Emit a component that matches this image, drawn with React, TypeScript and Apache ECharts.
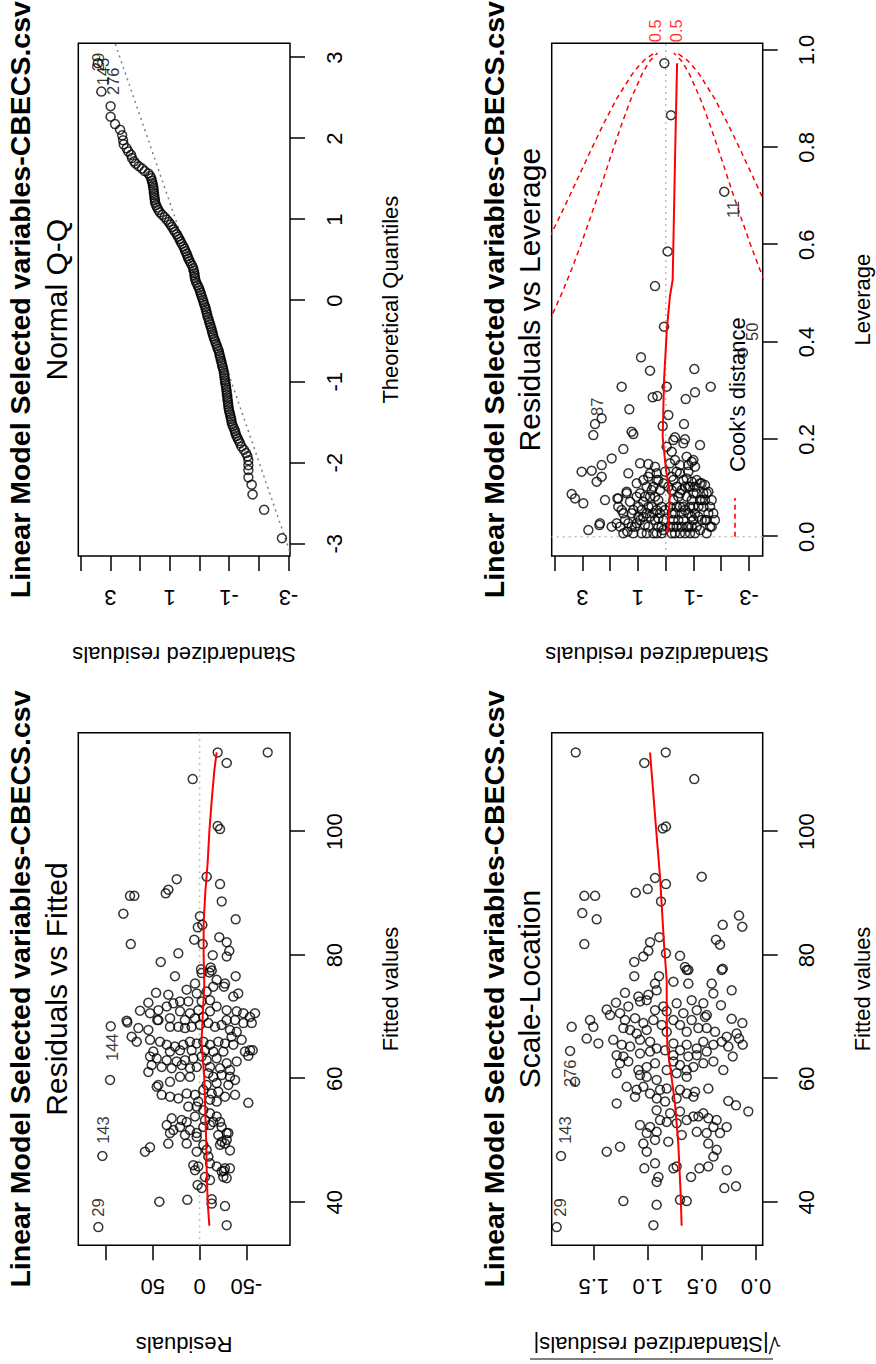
import React, { useEffect, useRef } from "react";
import * as echarts from "echarts";

const FONT = '"Liberation Sans", Arial, Helvetica, sans-serif';
const MAIN_TITLE = "Linear Model Selected variables-CBECS.csv";
const CAPTIONS = ["Residuals vs Fitted", "Normal Q-Q", "Scale-Location", "Residuals vs Leverage"];
const X_NAMES = ["Fitted values", "Theoretical Quantiles", "Fitted values", "Leverage"];
const Y_NAMES = ["Residuals", "Standardized residuals", "\u221A|Standardized residuals|", "Standardized residuals"];

// ---- axis ticks / labels ----
const FIT_TICKS = [40, 60, 80, 100];
const RES_TICKS = [-50, 0, 50, 100];
const RES_LABELS = [-50, 0, 50];
const Q_TICKS = [-3, -2, -1, 0, 1, 2, 3];
const STD_TICKS = [-3, -2, -1, 0, 1, 2, 3, 4];
const STD_LABELS = [-3, -1, 1, 3];
const SQRT_TICKS = [0, 0.5, 1.0, 1.5];
const LEV_TICKS = [0, 0.2, 0.4, 0.6, 0.8, 1.0];

// ---- Residuals vs Fitted: [fitted, residual] ----
const RVF_POINTS = [
  [112.8, -19.3], [112.8, -72.7], [111.1, -28.9], [108.5, 7.4], [100.9, -19.3], [100.4, -21.8], [92.7, -7.6], [92.3, 24.4],
  [90.6, 33.4], [90.0, 36.2], [89.6, 74.3], [89.6, 69.7], [91.5, -21.8], [88.7, -23.6], [86.7, 81.4], [85.8, -38.5],
  [86.3, -0.4], [84.9, -2.9], [84.5, 2.0], [82.5, 5.7], [81.8, -3.3], [82.9, -21.0], [82.1, -28.9], [80.7, -31.7],
  [79.8, -28.9], [81.8, 73.5], [80.3, 22.7], [78.9, 41.5], [80.0, -14.0], [77.7, -1.5], [78.0, -11.8], [77.5, -12.9],
  [76.6, 26.3], [76.6, -38.5], [77.1, -2.2], [77.2, -10.4], [76.0, -18.2], [75.4, -27.1], [75.4, 4.9], [74.4, 13.8],
  [73.9, 46.5], [73.6, 33.4], [72.5, 20.9], [72.5, 12.0], [73.8, 3.1], [74.1, -7.5], [74.9, -14.6], [74.9, -26.0],
  [73.3, -36.0], [73.8, -41.3], [72.7, -11.1], [72.5, -2.2], [72.2, 28.0], [72.3, 54.7], [71.0, 63.6], [70.6, 52.9],
  [71.1, 44.0], [71.7, 35.1], [70.9, 20.9], [70.6, 10.3], [71.1, 1.4], [70.9, -11.1], [71.7, -18.2], [71.1, -28.9],
  [70.9, -39.6], [70.6, -46.7], [70.6, -59.1], [70.0, -53.8], [69.5, 44.0], [69.8, 31.6], [69.5, 15.6], [69.8, 4.9],
  [70.0, -4.0], [69.5, -28.9], [69.5, -37.8], [69.4, 77.8], [69.1, 77.1], [68.2, 65.4], [69.5, 45.1], [67.9, 54.7],
  [68.4, 31.6], [68.4, 22.7], [68.2, 15.6], [68.4, 8.5], [68.7, -0.4], [69.0, -9.3], [68.4, -16.4], [68.7, -23.5],
  [67.9, -32.4], [67.6, -39.6], [69.0, -46.7], [69.0, -55.6], [66.8, -34.2], [68.5, 94.9], [66.8, 72.5], [66.0, 67.2],
  [66.3, 52.9], [66.0, 42.3], [65.5, 35.1], [65.2, 26.3], [65.5, 17.4], [66.0, 10.3], [65.7, 3.1], [66.0, -4.0],
  [65.5, -11.1], [66.0, -20.0], [65.7, -27.1], [65.5, -36.0], [66.3, -44.9], [64.6, -53.8], [64.6, -56.6], [64.4, -48.4],
  [64.4, 49.4], [64.4, 31.6], [64.6, 20.9], [64.6, 8.5], [64.6, -5.8], [64.4, -14.6], [64.4, -25.3], [63.6, 52.9],
  [63.3, 45.8], [63.0, 35.1], [62.8, 24.5], [63.0, 15.6], [63.3, 6.7], [63.6, -2.2], [63.0, -7.5], [63.3, -18.2],
  [62.5, -28.9], [62.8, -39.6], [63.7, -52.0], [62.2, 51.2], [61.9, 40.5], [61.7, 29.8], [62.2, 19.1], [61.7, 10.3],
  [61.9, 3.1], [61.9, -11.1], [61.7, -21.8], [61.4, -32.4], [61.1, 54.7], [59.8, 95.6], [59.0, 44.0], [59.5, 31.6],
  [60.3, 20.9], [60.3, 10.3], [60.9, -9.3], [60.3, -14.6], [60.6, -23.5], [60.3, -32.4], [59.8, -37.8], [59.0, -7.5],
  [59.3, -18.2], [59.0, -30.7], [58.7, 45.8], [57.4, 40.5], [57.1, 31.6], [56.8, 22.7], [57.6, 13.8], [57.4, 4.9],
  [58.2, -4.0], [57.6, -12.9], [57.9, -20.0], [57.1, -27.1], [57.4, -37.8], [56.1, -52.0], [56.3, 1.4], [56.6, -11.1],
  [56.3, -18.2], [55.5, 12.0], [55.5, 3.1], [54.9, -4.0], [54.4, -11.1], [53.9, -18.2], [53.3, -5.8], [53.0, -21.8],
  [53.0, -14.6], [53.9, 4.9], [53.3, 19.1], [53.6, 29.8], [52.5, 35.1], [51.7, 28.0], [53.0, 13.8], [52.2, 20.9],
  [51.7, 10.3], [51.2, 3.1], [52.2, -4.0], [52.5, -11.1], [52.2, -23.5], [51.2, -28.9], [50.9, -20.0], [51.2, 31.6],
  [50.9, 15.6], [49.5, -27.1], [49.8, -23.5], [48.4, -32.4], [51.2, -30.7], [49.5, 33.4], [48.9, 52.9], [48.2, 58.3],
  [49.5, 13.8], [50.6, 3.1], [49.3, -4.0], [48.5, -7.5], [48.2, 3.1], [49.3, -21.8], [50.1, -28.9], [46.0, 6.7],
  [45.2, 4.9], [45.8, 1.4], [46.3, -11.1], [45.8, -18.2], [45.5, -27.1], [45.5, -32.4], [45.0, -23.5], [47.4, -9.3],
  [44.1, -25.3], [45.1, -26.0], [44.1, -5.8], [42.8, 2.1], [42.3, -2.2], [43.6, -11.1], [43.9, -28.9], [40.1, 43.0],
  [40.4, 13.1], [40.5, -12.9], [39.8, -12.9], [39.4, -27.1], [36.3, -28.9], [36.0, 108.1], [47.5, 103.8],
];
const RVF_LOWESS = [
  [36.2, -10.4], [40, -8.6], [45, -7.6], [50, -7.0], [55, -6.0], [60, -5.0], [63, -3.6], [66, -2.0], [70, -3.3],
  [75, -5.0], [80, -4.3], [85, -4.3], [90, -6.0], [95, -8.6], [100, -10.4], [105, -12.9], [110, -15.8], [112.8, -18.2],
];
const RVF_LABELS = [[37.5, 108.5, "29", "right"], [49.3, 103.1, "143", "right"], [62.7, 93.8, "144", "right"]];

// ---- Normal Q-Q: [theoretical quantile, standardized residual] ----
const QQ_POINTS = [
  [2.93, 3.42], [2.58, 3.30], [2.40, 2.99], [2.27, 2.99], [2.18, 2.84], [2.11, 2.67], [2.04, 2.60], [1.98, 2.57],
  [1.93, 2.55], [1.88, 2.45], [1.84, 2.39], [1.80, 2.30], [1.76, 2.27], [1.72, 2.20], [1.69, 2.14], [1.66, 2.04],
  [1.63, 1.93], [1.60, 1.84], [1.57, 1.72], [1.54, 1.66], [1.51, 1.62], [1.48, 1.60], [1.45, 1.58], [1.42, 1.56],
  [1.39, 1.55], [1.36, 1.54], [1.33, 1.53], [1.30, 1.52], [1.27, 1.51], [1.24, 1.50], [1.21, 1.49], [1.18, 1.46],
  [1.15, 1.42], [1.12, 1.38], [1.09, 1.33], [1.06, 1.25], [1.03, 1.17], [1.00, 1.10], [0.97, 1.03], [0.94, 0.97],
  [0.91, 0.92], [0.88, 0.87], [0.85, 0.82], [0.82, 0.76], [0.79, 0.72], [0.76, 0.67], [0.73, 0.63], [0.70, 0.59],
  [0.67, 0.54], [0.64, 0.50], [0.61, 0.47], [0.58, 0.43], [0.55, 0.40], [0.52, 0.37], [0.49, 0.33], [0.46, 0.29],
  [0.43, 0.24], [0.40, 0.21], [0.37, 0.19], [0.34, 0.17], [0.31, 0.16], [0.28, 0.15], [0.25, 0.13], [0.22, 0.10],
  [0.19, 0.06], [0.16, 0.02], [0.13, -0.01], [0.10, -0.04], [0.07, -0.06], [0.04, -0.09], [0.01, -0.12], [-0.02, -0.14],
  [-0.05, -0.17], [-0.08, -0.20], [-0.11, -0.22], [-0.14, -0.24], [-0.17, -0.26], [-0.20, -0.28], [-0.23, -0.31],
  [-0.26, -0.33], [-0.29, -0.36], [-0.32, -0.38], [-0.35, -0.41], [-0.38, -0.43], [-0.41, -0.45], [-0.44, -0.47],
  [-0.47, -0.50], [-0.50, -0.53], [-0.53, -0.56], [-0.56, -0.59], [-0.59, -0.62], [-0.62, -0.65], [-0.65, -0.67],
  [-0.68, -0.69], [-0.71, -0.71], [-0.74, -0.73], [-0.77, -0.75], [-0.80, -0.77], [-0.83, -0.79], [-0.86, -0.81],
  [-0.89, -0.83], [-0.92, -0.84], [-0.95, -0.85], [-0.98, -0.86], [-1.01, -0.87], [-1.04, -0.89], [-1.07, -0.90],
  [-1.10, -0.91], [-1.13, -0.92], [-1.16, -0.93], [-1.19, -0.94], [-1.22, -0.95], [-1.25, -0.96], [-1.28, -0.97],
  [-1.31, -0.98], [-1.34, -0.99], [-1.37, -1.01], [-1.40, -1.03], [-1.43, -1.05], [-1.46, -1.07], [-1.49, -1.08],
  [-1.52, -1.10], [-1.55, -1.13], [-1.58, -1.17], [-1.61, -1.20], [-1.64, -1.22], [-1.67, -1.25], [-1.70, -1.29],
  [-1.73, -1.33], [-1.76, -1.37], [-1.80, -1.42], [-1.84, -1.50], [-1.88, -1.57], [-1.92, -1.62], [-1.97, -1.65],
  [-2.03, -1.65], [-2.09, -1.65], [-2.18, -1.65], [-2.27, -1.76], [-2.39, -1.79], [-2.58, -2.18], [-2.93, -2.78],
];
const QQ_LINE = [[-3.3, -3.235], [3.3, 2.955]];
const QQ_LABELS = [[3.07, 3.40, "29", "left"], [3.01, 3.24, "143", "left"], [2.89, 2.90, "276", "left"]];

// ---- Scale-Location: [fitted, sqrt|std residual|] ----
const SL_POINTS = [
  [112.8, 1.668], [112.8, 0.835], [111.1, 1.033], [108.5, 0.571], [100.5, 0.863], [100.8, 0.833], [92.5, 0.934], [91.5, 0.833],
  [92.7, 0.502], [90.1, 1.113], [90.7, 1.002], [89.6, 1.588], [89.6, 1.489], [88.7, 0.879], [86.8, 1.607], [85.8, 1.474],
  [81.8, 1.588], [86.4, 0.157], [84.6, 0.127], [84.9, 0.308], [82.5, 0.37], [81.7, 0.333], [82.9, 0.894], [82.1, 0.98],
  [80.3, 0.833], [79.9, 0.703], [80.7, 0.996], [79.8, 1.042], [78.9, 1.126], [78.1, 0.657], [77.6, 0.626], [77.8, 0.308],
  [76.6, 1.126], [76.6, 0.897], [77.6, 0.641], [77.6, 0.317], [75.7, 0.764], [75.4, 0.626], [75.4, 0.41], [74.3, 0.225],
  [73.9, 1.212], [73.3, 1.088], [73.6, 0.996], [74.3, 0.919], [75.4, 0.934], [72.3, 1.295], [71.2, 1.381], [70.3, 1.35],
  [70.6, 1.258], [71.7, 1.181], [72.5, 1.073], [72.7, 1.011], [71.1, 0.934], [71.7, 0.857], [72.2, 0.734], [72.7, 0.595],
  [72.2, 0.487], [71.9, 0.324], [73.8, 0.394], [70.9, 0.826], [70.6, 0.672], [71.1, 0.548], [70.3, 0.456], [69.5, 1.535],
  [68.4, 1.505], [68.4, 1.705], [69.5, 1.212], [69.8, 1.119], [69.0, 1.042], [69.5, 0.949], [68.7, 0.872], [69.5, 0.764],
  [68.7, 0.703], [69.5, 0.595], [70.0, 0.471], [68.2, 0.533], [68.2, 0.456], [67.6, 0.379], [69.7, 0.225], [69.0, 0.126],
  [68.2, 1.227], [67.9, 1.165], [67.3, 1.104], [67.9, 1.011], [67.6, 0.826], [67.6, 0.641], [66.8, 0.271], [67.3, 0.179],
  [66.5, 1.566], [65.7, 1.458], [66.3, 1.32], [65.5, 1.242], [65.2, 1.165], [66.3, 1.073], [66.0, 0.98], [64.9, 0.919],
  [64.6, 0.841], [65.7, 0.764], [64.6, 0.703], [65.5, 0.641], [64.9, 0.548], [66.0, 0.487], [65.5, 0.394], [66.0, 0.317],
  [65.2, 0.256], [66.5, 0.157], [65.5, 0.123], [64.5, 1.72], [63.8, 1.289], [63.6, 1.227], [64.1, 1.073], [64.4, 0.98],
  [63.8, 0.764], [63.6, 0.626], [63.8, 0.548], [64.4, 0.456], [63.6, 0.215], [62.5, 1.258], [62.8, 1.181], [61.4, 1.088],
  [61.9, 1.011], [62.5, 0.934], [61.4, 0.826], [62.8, 0.764], [62.2, 0.703], [61.4, 0.641], [61.9, 0.579], [62.5, 0.487],
  [62.8, 0.394], [61.4, 0.302], [60.9, 1.289], [60.6, 1.073], [60.3, 1.011], [59.8, 0.919], [60.9, 0.734], [60.3, 0.641],
  [59.5, 1.674], [58.7, 1.196], [58.2, 1.104], [58.7, 1.042], [57.6, 0.98], [58.2, 0.888], [58.4, 0.826], [58.2, 0.703],
  [57.6, 0.641], [57.9, 0.564], [58.4, 0.441], [56.0, 1.289], [57.1, 1.119], [56.8, 0.919], [56.3, 0.841], [56.8, 0.734],
  [57.1, 0.579], [56.4, 0.256], [55.7, 0.185], [54.9, 0.919], [54.4, 0.795], [54.7, 0.703], [53.9, 0.579], [54.4, 0.487],
  [53.6, 0.441], [53.3, 0.364], [52.2, 0.271], [54.7, 0.071], [52.5, 1.073], [52.2, 0.98], [53.3, 0.888], [53.0, 0.826],
  [52.8, 0.734], [53.3, 0.641], [53.9, 0.533], [51.2, 1.011], [51.4, 0.919], [50.1, 0.934], [49.8, 0.811], [50.9, 0.687],
  [51.4, 0.548], [51.2, 0.456], [52.2, 0.394], [51.2, 0.333], [49.5, 1.042], [49.5, 0.441], [48.5, 0.364], [48.2, 1.381],
  [49.0, 1.258], [47.5, 1.804], [48.2, 1.011], [45.5, 1.033], [46.3, 0.934], [43.3, 0.919], [45.5, 0.764], [45.8, 0.734],
  [44.1, 0.601], [45.5, 0.524], [45.8, 0.441], [45.2, 0.271], [42.3, 0.293], [42.6, 0.185], [44.1, 0.903], [47.4, 0.394],
  [40.2, 1.227], [39.6, 0.919], [40.4, 0.703], [40.2, 0.641], [36.3, 0.949], [36.0, 1.844],
];
const SL_LOWESS = [
  [36.2, 0.688], [41.4, 0.697], [49.5, 0.719], [55.9, 0.749], [61.4, 0.79], [65, 0.82], [70, 0.826], [75.9, 0.826],
  [81.8, 0.851], [92.7, 0.888], [100.6, 0.925], [112.8, 0.98],
];
const SL_LABELS = [[37.5, 1.813, "29", "right"], [49.3, 1.767, "143", "right"], [58.5, 1.72, "276", "right"]];

// ---- Residuals vs Leverage: [leverage, std residual] ----
const RVL_POINTS = [
  [0.973, 0.05], [0.866, -0.19], [0.709, -2.11], [0.586, -0.07], [0.515, 0.385], [0.4315, 0.061], [0.3685, 0.89],
  [0.341, 0.565], [0.3445, -1.032], [0.3082, -1.62], [0.3082, 1.586], [0.2966, -1.056], [0.2829, -0.72], [0.2863, 0.469],
  [0.289, 0.301], [0.3082, -0.035], [0.2616, 1.31], [0.2431, 2.307], [0.2315, 2.547], [0.2089, 2.607], [0.25, -0.095],
  [0.2315, -0.659], [0.2157, 1.226], [0.2109, 1.166], [0.2274, 0.109], [0.2041, -0.335], [0.2, -0.695], [0.1801, 1.526],
  [0.378, -2.78],
  [0.1849, -0.035], [0.1746, -0.215], [0.1575, -0.335], [0.1472, -0.515], [0.1644, -0.755], [0.1541, -0.936],
  [0.1507, -0.155], [0.1335, 0.025], [0.1335, -0.395], [0.1335, -0.816], [0.1438, -1.056], [0.1986, -0.275],
  [0.1918, -0.635], [0.1438, 0.385], [0.1301, 0.565], [0.1164, 0.265], [0.1507, 0.926], [0.1493, 0.625], [0.1301, 1.346],
  [0.1609, 1.946], [0.1472, 2.307], [0.1335, 3.027], [0.1356, 2.667], [0.113, 2.487], [0.1233, 2.307], [0.0876, 3.387],
  [0.0787, 3.267], [0.0685, 2.967], [0.0753, 2.186], [0.0137, 2.787], [0.0274, 2.367], [0.0239, 2.391], [0.0205, 1.946],
  [0.0787, 1.742], [0.0924, 1.406], [0.0616, 1.706], [0.1883, -1.236], [0.1575, -0.996], [0.1472, -0.816],
  [0.0205, 1.646], [0.0342, 1.466], [0.0102, 1.382], [0.0479, 1.226], [0.0205, 1.106], [0.0616, 0.986], [0.0342, 0.926],
  [0.0068, 0.866], [0.0821, 0.746], [0.0479, 0.685], [0.0205, 0.625], [0.0616, 0.505], [0.1027, 0.445], [0.0342, 0.385],
  [0.0068, 0.325], [0.0753, 0.265], [0.0479, 0.205], [0.0205, 0.145], [0.1096, 0.085], [0.089, 0.926], [0.1096, 1.046],
  [0.1233, 0.625], [0.1164, 0.806], [0.1301, 0.325], [0.089, 1.406], [0.0719, 1.286], [0.0548, 1.586], [0.0787, 1.706],
  [0.0274, 1.766], [0.0068, 1.166], [0.0068, 0.685], [0.0068, 0.445], [0.0205, 0.265], [0.0068, 0.145], [0.0821, 0.565],
  [0.0411, 0.806], [0.0411, 0.565], [0.0274, 1.046], [0.0548, 0.325], [0.0342, 0.085], [0.0548, 0.025],
  [0.0479, 1.526], [0.0274, 1.346], [0.0548, 1.166], [0.0821, 1.046], [0.0548, 0.866], [0.0239, 0.746], [0.0616, 0.625],
  [0.0958, 0.505], [0.0479, 0.445], [0.0821, 0.385], [0.0958, 0.205], [0.0616, 0.145], [0.0137, 0.085], [0.0377, 0.265],
  [0.0719, 0.806], [0.0411, 0.986], [0.0205, 1.226], [0.0068, 1.526], [0.1027, 0.685], [0.1164, 0.325],
  [0.0205, -0.155], [0.0479, -0.215], [0.0753, -0.275], [0.0068, -0.335], [0.1027, -0.395], [0.0342, -0.455],
  [0.0616, -0.515], [0.0205, -0.575], [0.1164, -0.635], [0.0068, -0.695], [0.0821, -0.755], [0.0479, -0.816],
  [0.1027, -0.876], [0.0205, -0.936], [0.0616, -0.996], [0.0068, -1.056], [0.089, -1.116], [0.0411, -1.176],
  [0.0137, -1.236], [0.1096, -1.296], [0.0616, -1.356], [0.0342, -1.416], [0.089, -1.476], [0.0479, -1.536],
  [0.0205, -1.596], [0.0753, -1.656], [0.0479, -1.716], [0.0342, -1.776], [0.0068, -1.476], [0.1164, -1.116],
  [0.1198, -0.755], [0.113, -0.936], [0.1096, -1.236], [0.1061, -1.416], [0.0924, -1.536], [0.1301, -0.515],
  [0.1233, -0.215], [0.1027, -0.095], [0.0342, -0.635], [0.0205, -0.816], [0.0342, -0.996], [0.0616, -1.176],
  [0.0616, -0.395], [0.0068, -0.215], [0.0068, -0.515], [0.0068, -0.876], [0.0342, -0.275], [0.0821, -0.455],
  [0.0548, -0.695], [0.0753, -0.936], [0.0479, -1.056], [0.0753, -1.296], [0.0958, -0.575],
  [0.0616, -0.155], [0.0958, -0.215], [0.0479, -0.335], [0.0205, -0.395], [0.089, -0.515], [0.0479, -0.575],
  [0.1027, -0.695], [0.0205, -0.755], [0.0616, -0.876], [0.0411, -0.936], [0.089, -0.996], [0.0205, -1.116],
  [0.0753, -1.236], [0.0342, -1.296], [0.0753, -1.416], [0.0342, -1.476], [0.0616, -1.596], [0.0205, -1.656],
  [0.1164, -0.275], [0.1027, -0.816], [0.0205, -0.275], [0.0616, -0.635], [0.1027, -1.056], [0.089, -1.356],
];
const RVL_LOWESS = [
  [0.007, -0.06], [0.03, -0.10], [0.09, -0.15], [0.137, -0.01], [0.205, 0.11], [0.322, 0.06], [0.425, -0.04],
  [0.493, -0.15], [0.527, -0.25], [0.582, -0.27], [0.788, -0.34], [0.973, -0.41],
];
const RVL_LABELS = [[0.246, 2.49, "87", "right"], [0.692, -2.435, "11", "left"], [0.40, -3.10, "50", "right"]];
const COOK_H = [0.3, 0.35, 0.4, 0.45, 0.5, 0.55, 0.6, 0.65, 0.7, 0.75, 0.8, 0.85, 0.9, 0.95, 0.97, 0.98, 0.994];
const COOK_05 = [5.716, 5.099, 4.583, 4.137, 3.742, 3.385, 3.055, 2.746, 2.449, 2.160, 1.871, 1.572, 1.247, 0.858, 0.658, 0.535, 0.291];
const COOK_10 = [8.083, 7.211, 6.481, 5.851, 5.292, 4.787, 4.320, 3.883, 3.464, 3.055, 2.646, 2.223, 1.764, 1.213, 0.931, 0.756, 0.411];
const COOK_LABELS = [[1.0138, 0.376, "0.5", "right"], [1.0138, -0.376, "0.5", "right"]];

// ---- layout (unrotated R device frame, 1364 x 876) ----
const GRIDS = [
  { left: 118.7, top: 78.3, width: 512.6, height: 211.7 },
  { left: 808, top: 78.3, width: 512.7, height: 211.7 },
  { left: 118.7, top: 551.7, width: 512.6, height: 211 },
  { left: 808, top: 551.7, width: 512.7, height: 211 },
];
const X_RANGES = [[33.04, 116.0], [-3.15, 3.176], [33.04, 116.0], [-0.0397, 1.0138]];
const Y_RANGES = [[-96.5, 129.5], [-3.051, 4.077], [-0.062, 1.89], [-3.494, 4.107]];

function xAxis(i: number, ticks: number[], labels: number[], fmt: (v: number) => string) {
  return {
    type: "value", gridIndex: i, min: X_RANGES[i][0], max: X_RANGES[i][1], position: "bottom",
    axisLine: { show: false, onZero: false }, splitLine: { show: false },
    axisTick: { show: true, length: 15, lineStyle: { color: "#000", width: 1.5 }, customValues: ticks },
    axisLabel: { show: true, customValues: labels, formatter: fmt, fontSize: 22, fontFamily: FONT, color: "#000", margin: 33 },
  };
}
function yAxis(i: number, ticks: number[], labels: number[], fmt: (v: number) => string) {
  return {
    type: "value", gridIndex: i, min: Y_RANGES[i][0], max: Y_RANGES[i][1], position: "left",
    axisLine: { show: false, onZero: false }, splitLine: { show: false },
    axisTick: { show: true, length: 15, lineStyle: { color: "#000", width: 1.5 }, customValues: ticks },
    axisLabel: { show: true, customValues: labels, formatter: fmt, fontSize: 22, fontFamily: FONT, color: "#000", margin: 30, rotate: 90 },
  };
}
const plain = (v: number) => String(v);
const fixed1 = (v: number) => v.toFixed(1);

function pts(i: number, data: number[][]) {
  return {
    type: "scatter", xAxisIndex: i, yAxisIndex: i, data, symbol: "circle", symbolSize: 9, silent: true,
    itemStyle: { color: "rgba(0,0,0,0)", borderColor: "#000", borderWidth: 1.5 },
  };
}
function line(i: number, data: number[][], color: string, type: any, width: number, z = 3) {
  return {
    type: "line", xAxisIndex: i, yAxisIndex: i, data, symbol: "none", silent: true, clip: true, z,
    lineStyle: { color, type, width },
  };
}
function labels(i: number, items: any[], color = "#000") {
  return {
    type: "scatter", xAxisIndex: i, yAxisIndex: i, symbolSize: 0, silent: true, z: 6, clip: false,
    data: items.map(([x, y, name, pos]) => ({ value: [x, y], name, label: { position: pos } })),
    label: { show: true, formatter: "{b}", fontSize: 16.5, fontFamily: FONT, color, distance: 1 },
  };
}

function text(x: number, y: number, str: string, opts: any = {}) {
  return {
    type: "text", x, y, rotation: opts.rotation || 0, silent: true, z: 10,
    style: {
      text: str, fill: opts.fill || "#000", fontSize: opts.fontSize || 22, fontFamily: FONT,
      fontWeight: opts.bold ? "bold" : "normal", align: opts.align || "center", verticalAlign: "middle",
    },
  };
}

export default function App() {
  const ref = useRef<HTMLDivElement>(null);
  useEffect(() => {
    const chart = echarts.init(ref.current!, null, { renderer: "svg" });
    const cx = GRIDS.map((g) => g.left + g.width / 2);
    const cy = GRIDS.map((g) => g.top + g.height / 2);
    const titleY = [20, 20, 494, 494];
    const capY = [56, 56, 529.5, 529.5];
    const xNameY = [390, 390, 862, 862];
    const yNameX = [20, 710, 20, 710];
    const graphic: any[] = [];
    for (let i = 0; i < 4; i++) {
      graphic.push(text(cx[i], titleY[i], MAIN_TITLE, { bold: true, fontSize: 28.5 }));
      graphic.push(text(cx[i], capY[i], CAPTIONS[i], { fontSize: 30 }));
      graphic.push(text(cx[i], xNameY[i], X_NAMES[i]));
      graphic.push(text(yNameX[i], cy[i], Y_NAMES[i], { rotation: Math.PI / 2 }));
    }
    // radical bar over |Standardized residuals|
    graphic.push({ type: "line", silent: true, shape: { x1: 5, y1: 530, x2: 5, y2: 773 }, style: { stroke: "#000", lineWidth: 1.2 } });
    // Cook's distance legend
    graphic.push({ type: "line", silent: true, shape: { x1: 827.3, y1: 735, x2: 866, y2: 735 }, style: { stroke: "#ff0000", lineWidth: 1.6, lineDash: [5, 4] } });
    graphic.push(text(892, 737, "Cook's distance", { align: "left" }));

    const option: any = {
      animation: false,
      backgroundColor: "#fff",
      grid: GRIDS.map((g) => ({ ...g, show: true, borderColor: "#000", borderWidth: 1.5, backgroundColor: "rgba(0,0,0,0)", containLabel: false })),
      xAxis: [
        xAxis(0, FIT_TICKS, FIT_TICKS, plain),
        xAxis(1, Q_TICKS, Q_TICKS, plain),
        xAxis(2, FIT_TICKS, FIT_TICKS, plain),
        xAxis(3, LEV_TICKS, LEV_TICKS, fixed1),
      ],
      yAxis: [
        yAxis(0, RES_TICKS, RES_LABELS, plain),
        yAxis(1, STD_TICKS, STD_LABELS, plain),
        yAxis(2, SQRT_TICKS, SQRT_TICKS, fixed1),
        yAxis(3, STD_TICKS, STD_LABELS, plain),
      ],
      series: [
        pts(0, RVF_POINTS),
        line(0, [[X_RANGES[0][0], 0], [X_RANGES[0][1], 0]], "#bebebe", [2, 4], 1.5, 1),
        line(0, RVF_LOWESS, "#ff0000", "solid", 2),
        labels(0, RVF_LABELS),

        pts(1, QQ_POINTS),
        line(1, QQ_LINE, "#7f7f7f", [2, 4], 1.5, 1),
        labels(1, QQ_LABELS),

        pts(2, SL_POINTS),
        line(2, SL_LOWESS, "#ff0000", "solid", 2),
        labels(2, SL_LABELS),

        pts(3, RVL_POINTS),
        line(3, [[X_RANGES[3][0], 0], [X_RANGES[3][1], 0]], "#bebebe", [2, 4], 1.5, 1),
        line(3, [[0, Y_RANGES[3][0]], [0, Y_RANGES[3][1]]], "#bebebe", [2, 4], 1.5, 1),
        line(3, RVL_LOWESS, "#ff0000", "solid", 2),
        line(3, COOK_H.map((h, k) => [h, COOK_05[k]]), "#ff0000", [5, 4], 1.5),
        line(3, COOK_H.map((h, k) => [h, -COOK_05[k]]), "#ff0000", [5, 4], 1.5),
        line(3, COOK_H.map((h, k) => [h, COOK_10[k]]), "#ff0000", [5, 4], 1.5),
        line(3, COOK_H.map((h, k) => [h, -COOK_10[k]]), "#ff0000", [5, 4], 1.5),
        labels(3, RVL_LABELS),
        labels(3, COOK_LABELS, "#ff0000"),
      ],
      graphic,
    };
    chart.setOption(option);
    return () => chart.dispose();
  }, []);
  return (
    <div style={{ position: "absolute", left: 0, top: 0, width: 876, height: 1364, overflow: "hidden", background: "#fff" }}>
      <div
        ref={ref}
        style={{
          position: "absolute", left: 0, top: 0, width: 1364, height: 876,
          transformOrigin: "0 0", transform: "translate(0px, 1364px) rotate(-90deg)",
        }}
      />
    </div>
  );
}
